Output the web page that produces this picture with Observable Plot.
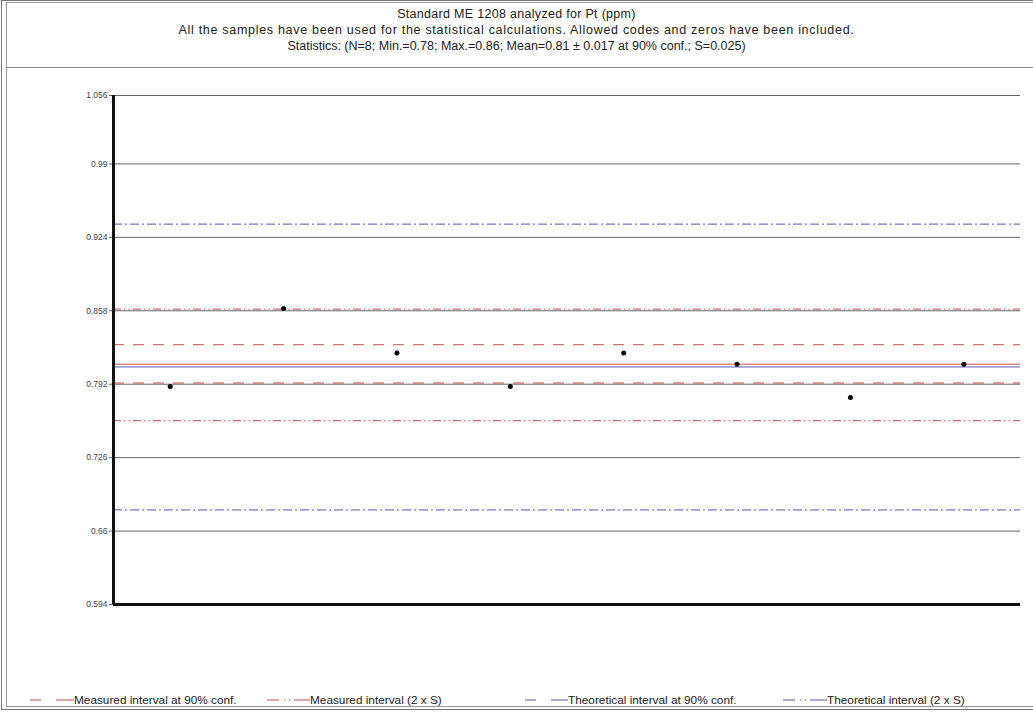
<!DOCTYPE html>
<html>
<head>
<meta charset="utf-8">
<script src="https://cdn.jsdelivr.net/npm/d3@7"></script>
<script src="https://cdn.jsdelivr.net/npm/@observablehq/plot@0.6"></script>
<style>
  html, body { margin: 0; padding: 0; background: #fff; }
  body { width: 1033px; height: 712px; overflow: hidden; font-family: "Liberation Sans", Arial, sans-serif; }
  #wrap { position: relative; width: 1033px; height: 712px; }
  .b1 { position: absolute; left: 1px; top: 0px; width: 1040px; height: 710px; border: 1px solid #777; box-sizing: border-box; }
  .b2 { position: absolute; left: 6px; top: 2px; width: 1040px; height: 705px; border: 1px solid #999; box-sizing: border-box; }
  .hdr { position: absolute; left: 7px; top: 67px; width: 1030px; height: 0; border-top: 1px solid #888; }
  #title { position: absolute; left: 0; top: 6px; width: 1033px; text-align: center; font-size: 12.5px; line-height: 16px; color: #222; }
  #chart { position: absolute; left: 0; top: 0; }
  #legend { position: absolute; left: 0; top: 692px; width: 1033px; height: 16px; font-size: 11.8px; color: #222; }
  .li { position: absolute; top: 0; display: flex; align-items: center; }
  .li svg { display: block; }
</style>
</head>
<body>
<div id="wrap">
  <div class="b1"></div>
  <div class="b2"></div>
  <div class="hdr"></div>
  <div id="title"></div>
  <div id="chart"></div>
  <div id="legend"></div>
</div>
<script>
// ---- data ----
const titleLines = [
  "Standard ME 1208 analyzed for Pt (ppm)",
  "All the samples have been used for the statistical calculations. Allowed codes and zeros have been included.",
  "Statistics: (N=8; Min.=0.78; Max.=0.86; Mean=0.81 ± 0.017 at 90% conf.; S=0.025)"
];
const titleSpacing = ["0.3px", "0.7px", "0px"];
const sampleIndex = [1, 2, 3, 4, 5, 6, 7, 8];
const sampleValues = [0.79, 0.86, 0.82, 0.79, 0.82, 0.81, 0.78, 0.81];
const yDomain = [0.594, 1.0515];
const yTicks = [0.594, 0.66, 0.726, 0.792, 0.858, 0.924, 0.99, 1.0515];
const yTickLabels = ["0.594", "0.66", "0.726", "0.792", "0.858", "0.924", "0.99", "1.056"];
const measuredMean = [0.8100];
const theoreticalValue = [0.8075];
const measured90 = [0.8275, 0.7931];
const measured2S = [0.8595, 0.7592];
const theoretical2S = [0.9359, 0.6790];
const legendLabels = [
  "Measured interval at 90% conf.",
  "Measured interval (2 x S)",
  "Theoretical interval at 90% conf.",
  "Theoretical interval (2 x S)"
];

const RED = "#c0504d";
const BLUE = "#5858b4";

document.getElementById("title").innerHTML = titleLines
  .map((t, k) => `<div style="letter-spacing:${titleSpacing[k]}">${t}</div>`).join("");

const samples = sampleIndex.map((i, k) => ({i, v: sampleValues[k]}));

const chart = Plot.plot({
  width: 1033,
  height: 712,
  marginTop: 95,
  marginBottom: 108,
  marginLeft: 113,
  marginRight: 13,
  style: {background: "transparent", fontFamily: "Liberation Sans, Arial, sans-serif", color: "#444"},
  x: {domain: [0.5, 8.5], axis: null},
  y: {domain: yDomain, axis: null},
  marks: [
    Plot.ruleY(yTicks, {stroke: "#666", strokeWidth: 1}),
    Plot.axisY(yTicks, {tickSize: 4, tickPadding: 2, stroke: "#666", fill: "#444", fontSize: 8.5,
      tickFormat: d => yTickLabels[yTicks.indexOf(d)], label: null}),
    Plot.ruleY(theoretical2S, {stroke: BLUE, strokeWidth: 1, strokeDasharray: "9,3,2,3"}),
    Plot.ruleY(measured2S, {stroke: RED, strokeWidth: 1, strokeDasharray: "8,3,1.5,3,1.5,3"}),
    Plot.ruleY(measured90, {stroke: RED, strokeWidth: 1, strokeDasharray: "11,9"}),
    Plot.ruleY(theoreticalValue, {stroke: BLUE, strokeWidth: 1}),
    Plot.ruleY(measuredMean, {stroke: RED, strokeWidth: 1}),
    Plot.ruleX([0.5], {stroke: "#111", strokeWidth: 3}),
    Plot.ruleY([yDomain[0]], {stroke: "#111", strokeWidth: 3}),
    Plot.dot(samples, {x: "i", y: "v", r: 2.5, fill: "#000", stroke: "none"})
  ]
});
document.getElementById("chart").appendChild(chart);

// legend
const legendStyles = [
  {color: RED, kind: "dash", w: 44},
  {color: RED, kind: "dashdot", w: 43},
  {color: BLUE, kind: "dash", w: 43},
  {color: BLUE, kind: "dashdot", w: 44}
];
const legendX = [30, 267, 525, 783];
const leg = document.getElementById("legend");
legendLabels.forEach((lab, k) => {
  const s = legendStyles[k];
  const div = document.createElement("div");
  div.className = "li";
  div.style.left = legendX[k] + "px";
  let inner;
  if (s.kind === "dash") {
    inner = `<line x1="0" y1="8" x2="11" y2="8" stroke="${s.color}"/><line x1="26" y1="8" x2="${s.w}" y2="8" stroke="${s.color}"/>`;
  } else {
    inner = `<line x1="0" y1="8" x2="12" y2="8" stroke="${s.color}"/><line x1="17" y1="8" x2="18.5" y2="8" stroke="${s.color}"/><line x1="22" y1="8" x2="23.5" y2="8" stroke="${s.color}"/><line x1="27" y1="8" x2="${s.w}" y2="8" stroke="${s.color}"/>`;
  }
  div.innerHTML = `<svg width="${s.w}" height="16">${inner}</svg><span>${lab}</span>`;
  leg.appendChild(div);
});
</script>
</body>
</html>
